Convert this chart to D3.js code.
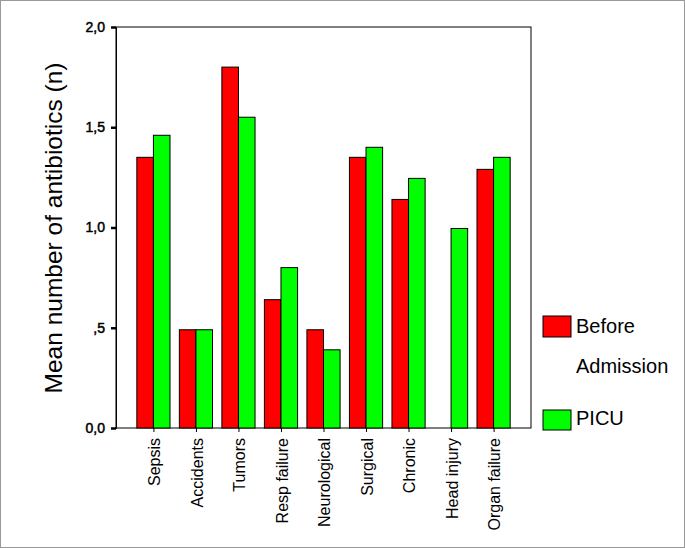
<!DOCTYPE html>
<html><head><meta charset="utf-8">
<script src="https://cdn.jsdelivr.net/npm/d3@7"></script>
<style>body{margin:0;background:#fff}svg{display:block}</style>
</head><body>
<svg id="c" width="685" height="548"></svg>
<script>
const categories = ["Sepsis","Accidents","Tumors","Resp failure","Neurological","Surgical","Chronic","Head injury","Organ failure"];
const beforeAdmission = [1.35,0.49,1.80,0.64,0.49,1.35,1.14,null,1.29];
const picu = [1.46,0.49,1.55,0.80,0.39,1.40,1.245,0.995,1.35];
const yTicks = [0,0.5,1.0,1.5,2.0];
const yTickLabels = ["0,0",",5","1,0","1,5","2,0"];
const seriesNames = ["Before","PICU"];
const colors = ["#ff0000","#00ff00"];

const svg = d3.select("#c");
const L = 116, R = 531, T = 27, B = 428;
const ff = "Arial, 'Liberation Sans', sans-serif";
svg.append("rect").attr("x",0.5).attr("y",0.5).attr("width",684).attr("height",547)
  .attr("fill","#fff").attr("stroke","#999");

const x = d3.scalePoint().domain(categories).range([L,R]).padding(0.88);
const step = x.step();
const bw = step*0.39;
const y = d3.scaleLinear().domain([0,2]).range([B,T]);

svg.append("rect").attr("x",L).attr("y",T).attr("width",R-L).attr("height",B-T)
  .attr("fill","none").attr("stroke","#000").attr("stroke-width",1);

const data = categories.map((c,i)=>({c, v:[beforeAdmission[i], picu[i]]}));
const g = svg.append("g");
data.forEach(d=>{
  d.v.forEach((v,k)=>{
    if(v==null) return;
    g.append("rect")
      .attr("x", x(d.c) + (k===0 ? -bw : 0))
      .attr("y", y(v))
      .attr("width", bw)
      .attr("height", y(0)-y(v))
      .attr("fill", colors[k]).attr("stroke","#000").attr("stroke-width",1);
  });
});

const ya = d3.axisLeft(y).tickValues(yTicks).tickFormat((d,i)=>yTickLabels[i]).tickSize(5).tickPadding(6);
const yg = svg.append("g").attr("transform",`translate(${L},0)`).call(ya);
yg.select(".domain").attr("stroke","#000");
yg.selectAll(".tick line").attr("stroke","#000").attr("stroke-width",2.5);
yg.selectAll(".tick text").attr("font-family",ff).attr("font-size",14)
  .attr("fill","#000").attr("stroke","#000").attr("stroke-width",0.5);

const xa = d3.axisBottom(x).tickSize(4).tickPadding(4);
const xg = svg.append("g").attr("transform",`translate(0,${B})`).call(xa);
xg.select(".domain").remove();
xg.selectAll(".tick line").attr("stroke","#000");
xg.selectAll(".tick text")
  .attr("font-family",ff).attr("font-size",16).attr("fill","#000")
  .attr("transform","rotate(-90)").attr("text-anchor","end").attr("dy","0.38em").attr("x",-10).attr("y",0);

svg.append("text").attr("transform","translate(62,228) rotate(-90)")
  .attr("text-anchor","middle").attr("font-family",ff)
  .attr("font-size",24.5).attr("fill","#000").text("Mean number of antibiotics (n)");

svg.append("rect").attr("x",543).attr("y",316).attr("width",28).attr("height",21).attr("fill",colors[0]).attr("stroke","#000");
svg.append("text").attr("x",576).attr("y",333).attr("font-family",ff).attr("font-size",20).text(seriesNames[0]);
svg.append("text").attr("x",576).attr("y",373).attr("font-family",ff).attr("font-size",20).text("Admission");
svg.append("rect").attr("x",543).attr("y",410).attr("width",28).attr("height",20).attr("fill",colors[1]).attr("stroke","#000");
svg.append("text").attr("x",576).attr("y",425).attr("font-family",ff).attr("font-size",20).text(seriesNames[1]);
</script>
</body></html>
